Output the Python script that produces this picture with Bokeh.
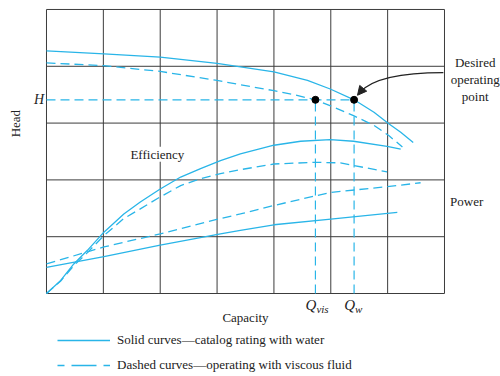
from bokeh.plotting import figure
from bokeh.models import Range1d, Label, Legend, LegendItem, Arrow, NormalHead
from bokeh.embed import file_html
from bokeh.resources import INLINE

# ---- data (grid units: capacity 0..7, head 0..5) ----
grid_x = [0, 1, 2, 3, 4, 5, 6, 7]
grid_y = [0, 1, 2, 3, 4, 5]

head_water_x = [0.0, 1.01, 2.0, 3.0, 4.0, 4.59, 4.99, 5.41, 5.76, 6.02, 6.23, 6.45]
head_water_y = [4.27, 4.22, 4.16, 4.05, 3.90, 3.75, 3.60, 3.41, 3.19, 2.99, 2.84, 2.66]

head_visc_x = [0.0, 1.01, 2.0, 3.0, 4.0, 4.35, 4.73, 5.05, 5.40, 5.76, 6.02, 6.26]
head_visc_y = [4.06, 4.01, 3.91, 3.75, 3.57, 3.50, 3.41, 3.28, 3.13, 2.96, 2.78, 2.58]

eff_water_x = [0.0, 0.25, 0.48, 0.72, 1.01, 1.36, 1.65, 2.0, 2.36, 2.71, 3.06, 3.41, 4.0, 4.47, 4.99, 5.40, 5.99, 6.23]
eff_water_y = [0.0, 0.23, 0.52, 0.76, 1.08, 1.40, 1.61, 1.84, 2.05, 2.20, 2.34, 2.46, 2.61, 2.68, 2.71, 2.68, 2.59, 2.54]

eff_visc_x = [0.0, 0.25, 0.48, 0.72, 1.01, 1.36, 1.65, 2.0, 2.36, 2.71, 3.06, 3.41, 4.0, 4.73, 5.17, 5.58, 5.99]
eff_visc_y = [0.0, 0.22, 0.49, 0.72, 1.02, 1.32, 1.49, 1.70, 1.90, 2.02, 2.11, 2.18, 2.28, 2.31, 2.30, 2.22, 2.14]

pow_water_x = [0.0, 1.01, 2.0, 3.06, 3.41, 4.0, 5.0, 6.17]
pow_water_y = [0.46, 0.65, 0.85, 1.05, 1.11, 1.21, 1.31, 1.43]

pow_visc_x = [0.0, 1.01, 2.0, 3.06, 3.41, 4.0, 5.0, 5.99, 6.58]
pow_visc_y = [0.52, 0.82, 1.05, 1.32, 1.40, 1.55, 1.78, 1.88, 1.95]

H_value = 3.41
Q_vis = 4.73
Q_w = 5.41

CYAN = "#29B5E8"
GRIDC = "#3c3c3c"
INK = "#222222"
SERIF = "Liberation Serif"
DASH = "9 5"
NAN = float("nan")

# frame covers the whole canvas; grid 0..7 x 0..5 maps to px 46..444 x 293..9
p = figure(width=500, height=376, output_backend="svg", toolbar_location=None,
           x_range=Range1d(-0.809, 7.985), y_range=Range1d(-1.461, 5.158),
           x_axis_type=None, y_axis_type=None,
           min_border_left=0, min_border_right=0, min_border_top=0, min_border_bottom=0)
p.background_fill_color = "white"
p.border_fill_color = "white"
p.outline_line_color = None
p.xgrid.visible = False
p.ygrid.visible = False

# chart grid (and frame)
p.segment(x0=grid_x, y0=[grid_y[0]] * len(grid_x), x1=grid_x, y1=[grid_y[-1]] * len(grid_x),
          line_color=GRIDC, line_width=1)
p.segment(x0=[grid_x[0]] * len(grid_y), y0=grid_y, x1=[grid_x[-1]] * len(grid_y), y1=grid_y,
          line_color=GRIDC, line_width=1)

# guide lines for H, Q_vis, Q_w
p.line([0, Q_w], [H_value, H_value], line_color=CYAN, line_width=1.2, line_dash=DASH)
p.line([Q_vis, Q_vis], [0, H_value], line_color=CYAN, line_width=1.2, line_dash=DASH)
p.line([Q_w, Q_w], [0, H_value], line_color=CYAN, line_width=1.2, line_dash=DASH)

# solid curves (water)
for xs, ys in [(head_water_x, head_water_y), (eff_water_x, eff_water_y), (pow_water_x, pow_water_y)]:
    p.line(xs, ys, line_color=CYAN, line_width=1.3)
# dashed curves (viscous)
for xs, ys in [(head_visc_x, head_visc_y), (eff_visc_x, eff_visc_y), (pow_visc_x, pow_visc_y)]:
    p.line(xs, ys, line_color=CYAN, line_width=1.3, line_dash=DASH)

p.scatter([Q_vis, Q_w], [H_value, H_value], size=7, color="black")

# arrow to desired operating point
p.bezier(x0=[6.98], y0=[3.89], x1=[5.52], y1=[3.55], cx0=[6.3], cy0=[3.89], cx1=[5.75], cy1=[3.8],
         line_color=INK, line_width=1.3)
p.add_layout(Arrow(end=NormalHead(size=9, fill_color=INK, line_color=INK),
                   x_start=5.56, y_start=3.6, x_end=5.47, y_end=3.49,
                   line_color=INK, line_width=1.3))


def lab(x, y, text, size="13px", align="center", baseline="middle", style="normal", angle=0, bg=None, xo=0):
    l = Label(x=x, y=y, text=text, text_font=SERIF, text_font_size=size, text_align=align,
              text_baseline=baseline, text_font_style=style, angle=angle, text_color=INK,
              x_offset=xo)
    if bg:
        l.background_fill_color = bg
    p.add_layout(l)


lab(-0.545, 2.99, "Head", angle=1.5708)
lab(3.5, -0.42, "Capacity")
lab(-0.04, H_value, "H", size="14px", align="right", style="italic")
lab(1.95, 2.45, "Efficiency", bg="white")
lab(7.39, 1.62, "Power")
lab(7.54, 4.07, "Desired")
lab(7.54, 3.77, "operating")
lab(7.54, 3.47, "point")
lab(Q_vis, -0.21, "Q", size="15px", align="right", style="italic", xo=1)
lab(Q_vis, -0.28, "vis", size="11px", align="left", style="italic", xo=1)
lab(Q_w, -0.21, "Q", size="15px", align="right", style="italic", xo=1)
lab(Q_w, -0.28, "w", size="11px", align="left", style="italic", xo=1)

# legend (sample renderers hold a single NaN point, so they draw nothing on the chart)
r_solid = p.line([NAN], [NAN], line_color=CYAN, line_width=1.3)
r_dash = p.line([NAN], [NAN], line_color=CYAN, line_width=1.3, line_dash="25 7", line_dash_offset=18)
legend = Legend(items=[LegendItem(label="Solid curves\u2014catalog rating with water", renderers=[r_solid]),
                       LegendItem(label="Dashed curves\u2014operating with viscous fluid", renderers=[r_dash])],
                location=(57, 1), orientation="vertical", glyph_width=53, glyph_height=20,
                label_height=20, spacing=5, padding=0, margin=0, label_standoff=7,
                label_text_font=SERIF, label_text_font_size="13px", label_text_color=INK,
                border_line_color=None, background_fill_alpha=0)
p.add_layout(legend, "center")

open("out.html", "w").write(file_html(p, INLINE))
